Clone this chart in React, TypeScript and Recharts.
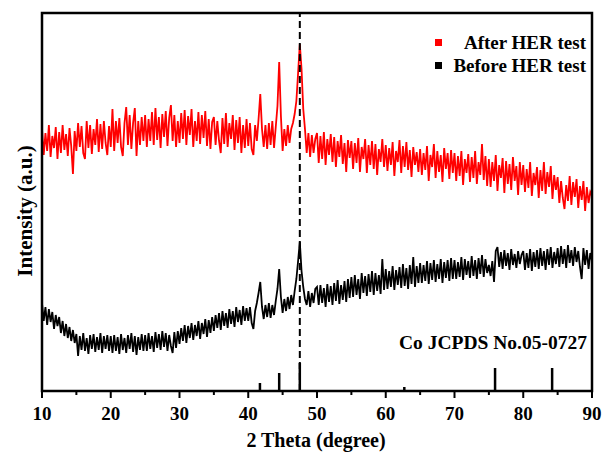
import { LineChart, Line, XAxis, YAxis, ReferenceLine, Legend } from "recharts";

const FONT = "'Liberation Serif', 'Times New Roman', serif";

// 2θ sampling grid of the scan
const THETA_START = 10;
const THETA_STEP = 0.25;

// After HER test (red), 0.25° apart
const AFTER_HER = [
  262, 236, 258, 240, 266, 234, 255, 243, 264, 232, 259, 238, 266, 241, 257, 235, 263, 245, 217, 260,
  240, 268, 244, 265, 238, 232, 270, 243, 266, 237, 262, 246, 272, 239, 267, 242, 270, 248, 236, 265,
  244, 282, 240, 270, 248, 273, 244, 235, 268, 284, 246, 276, 242, 268, 283, 235, 270, 246, 274, 250,
  276, 244, 272, 250, 279, 246, 283, 251, 274, 243, 277, 254, 280, 245, 273, 286, 250, 276, 244, 270,
  248, 278, 252, 281, 246, 275, 256, 282, 244, 270, 250, 279, 247, 276, 253, 280, 245, 272, 242, 269,
  274, 246, 270, 250, 238, 273, 247, 278, 244, 268, 252, 276, 241, 271, 248, 274, 238, 266, 243, 272,
  245, 268, 242, 236, 266, 250, 272, 297, 262, 244, 266, 242, 268, 246, 270, 243, 264, 285, 329, 275,
  240, 262, 245, 266, 248, 262, 268, 277, 290, 318, 347, 322, 282, 262, 238, 258, 234, 256, 238, 252,
  258, 228, 255, 232, 259, 226, 252, 236, 257, 229, 254, 224, 250, 234, 256, 227, 248, 219, 251, 233,
  250, 222, 248, 228, 253, 219, 244, 232, 252, 218, 246, 226, 250, 222, 247, 216, 242, 229, 252, 224,
  246, 220, 243, 226, 249, 215, 240, 229, 251, 218, 245, 224, 249, 221, 241, 214, 244, 226, 239, 219,
  242, 216, 238, 221, 245, 210, 236, 224, 247, 213, 240, 219, 236, 209, 243, 222, 238, 212, 241, 218,
  238, 210, 235, 215, 240, 206, 232, 218, 237, 209, 234, 213, 240, 207, 229, 216, 247, 211, 235, 205,
  232, 204, 229, 210, 236, 200, 226, 213, 233, 198, 230, 207, 227, 201, 234, 210, 225, 196, 229, 206,
  226, 199, 222, 203, 229, 195, 218, 206, 224, 193, 221, 200, 229, 197, 219, 204, 225, 192, 216, 201,
  214, 188, 210, 193, 182, 206, 190, 215, 186, 209, 194, 212, 183, 205, 191, 210, 180, 204, 188, 199,
  195,
];

// Before HER test (black)
const BEFORE_HER = [
  88, 70, 84, 66, 82, 69, 79, 62, 76, 65, 74, 58, 70, 55, 67, 53, 64, 50, 61, 48,
  57, 35, 55, 41, 58, 40, 53, 37, 56, 42, 57, 39, 54, 41, 58, 38, 55, 42, 56, 40,
  55, 38, 56, 40, 54, 37, 57, 41, 53, 38, 56, 42, 58, 39, 55, 36, 54, 41, 57, 40,
  56, 40, 58, 42, 55, 39, 59, 43, 57, 41, 60, 44, 58, 40, 56, 45, 38, 59, 43, 60,
  47, 63, 50, 66, 48, 65, 53, 68, 51, 66, 55, 70, 52, 68, 57, 72, 54, 71, 58, 74,
  60, 76, 63, 78, 61, 80, 65, 78, 63, 82, 67, 80, 64, 84, 69, 81, 66, 85, 70, 83,
  70, 84, 68, 62, 80, 88, 98, 109, 84, 72, 86, 74, 88, 73, 86, 76, 90, 102, 122, 94,
  78, 92, 80, 94, 82, 96, 86, 100, 112, 130, 149, 120, 104, 92, 86, 100, 84, 98, 88, 102,
  104, 86, 106, 88, 103, 84, 107, 89, 105, 86, 108, 90, 111, 87, 106, 91, 110, 89, 112, 93,
  114, 94, 116, 96, 112, 92, 118, 98, 115, 95, 117, 99, 120, 96, 118, 100, 116, 97, 132, 101,
  122, 102, 120, 104, 125, 101, 121, 106, 124, 103, 127, 105, 123, 102, 126, 107, 134, 104, 125, 108,
  128, 108, 126, 110, 130, 107, 128, 111, 131, 109, 127, 112, 132, 108, 129, 113, 131, 110, 133, 112,
  131, 112, 129, 114, 134, 111, 132, 116, 130, 113, 135, 115, 131, 112, 133, 117, 136, 114, 132, 118,
  126, 115, 130, 109, 140, 144, 124, 139, 122, 141, 125, 138, 121, 142, 126, 137, 123, 140, 127, 136,
  140, 121, 138, 123, 142, 120, 139, 124, 141, 122, 143, 125, 140, 121, 142, 126, 144, 123, 139, 127,
  143, 124, 145, 127, 142, 123, 146, 128, 141, 125, 144, 129, 140, 124, 112, 143, 126, 141, 122, 138,
  130,
];

// Co JCPDS No.05-0727 reference sticks
const STICK_POS = [41.7, 44.5, 47.5, 62.7, 75.9, 84.2];
const STICK_HEIGHT = [8, 18, 28, 4, 23, 23];

const X_TICKS = [10, 15, 20, 25, 30, 35, 40, 45, 50, 55, 60, 65, 70, 75, 80, 85, 90];
const X_DOMAIN = [10, 90];
const Y_DOMAIN = [0, 378];

const data = AFTER_HER.map((v, i) => ({
  theta: THETA_START + i * THETA_STEP,
  after: v,
  before: BEFORE_HER[i],
}));

const XTick = ({ x, y, payload }: any) => {
  const major = payload.value % 10 === 0;
  return (
    <g>
      <line x1={x} y1={y} x2={x} y2={y + (major ? 7 : 4)} stroke="#000" strokeWidth={2} />
      {major && (
        <text x={x} y={y + 29} textAnchor="middle" fill="#000" fontFamily={FONT} fontWeight="bold" fontSize={19}>
          {payload.value}
        </text>
      )}
    </g>
  );
};

const renderLegend = ({ payload }: any) => (
  <div style={{ fontFamily: FONT, fontWeight: "bold", fontSize: 19, color: "#000" }}>
    {(payload || []).map((e: any) => (
      <div key={e.value} style={{ display: "flex", alignItems: "center", justifyContent: "space-between", height: 23 }}>
        <span style={{ width: 7, height: 7, background: e.color, display: "inline-block" }} />
        <span>{e.value}</span>
      </div>
    ))}
  </div>
);

export default function App() {
  return (
    <div style={{ position: "absolute", left: 0, top: 0, width: 603, height: 452, background: "#fff" }}>
      <LineChart width={603} height={452} data={data} margin={{ top: 13, right: 11, bottom: 60, left: 42 }}>
        <XAxis
          dataKey="theta"
          type="number"
          domain={X_DOMAIN}
          ticks={X_TICKS}
          interval={0}
          height={1}
          tickSize={0}
          tickMargin={0}
          tickLine={false}
          tick={<XTick />}
          axisLine={{ stroke: "#000", strokeWidth: 2 }}
        />
        <YAxis type="number" domain={Y_DOMAIN} hide />

        <Line dataKey="after" name="After HER test" stroke="#ff0000" strokeWidth={1.8} dot={false} isAnimationActive={false} />
        <Line dataKey="before" name="Before HER test" stroke="#000000" strokeWidth={1.8} dot={false} isAnimationActive={false} />

        {STICK_POS.map((p, i) => (
          <ReferenceLine
            key={`stick-${p}`}
            segment={[{ x: p, y: 0 }, { x: p, y: STICK_HEIGHT[i] }]}
            stroke="#000"
            strokeWidth={2.5}
          />
        ))}
        <ReferenceLine x={47.5} stroke="#000" strokeWidth={2} strokeDasharray="7 4" />

        <Legend
          layout="horizontal"
          verticalAlign="middle"
          align="center"
          content={renderLegend}
          wrapperStyle={{ left: 435, top: 31, width: 151 }}
        />
      </LineChart>

      {/* plot frame, drawn as an svg overlay on top of the chart */}
      <svg
        width={603}
        height={452}
        style={{ position: "absolute", left: 0, top: 0, pointerEvents: "none", zIndex: 5 }}
      >
        <rect x={42} y={13} width={550} height={378} fill="none" stroke="#000" strokeWidth={2.5} />
      </svg>

      <div
        style={{
          position: "absolute", left: 25, top: 211, transform: "translate(-50%, -50%) rotate(-90deg)",
          whiteSpace: "nowrap", fontFamily: FONT, fontWeight: "bold", fontSize: 21,
        }}
      >
        Intensity (a.u.)
      </div>
      <div
        style={{
          position: "absolute", left: 316, top: 440, transform: "translate(-50%, -50%)",
          whiteSpace: "nowrap", fontFamily: FONT, fontWeight: "bold", fontSize: 20,
        }}
      >
        2 Theta (degree)
      </div>
      <div
        style={{
          position: "absolute", right: 603 - 587, top: 343, transform: "translateY(-50%)",
          whiteSpace: "nowrap", fontFamily: FONT, fontWeight: "bold", fontSize: 19.5,
        }}
      >
        Co JCPDS No.05-0727
      </div>
    </div>
  );
}
